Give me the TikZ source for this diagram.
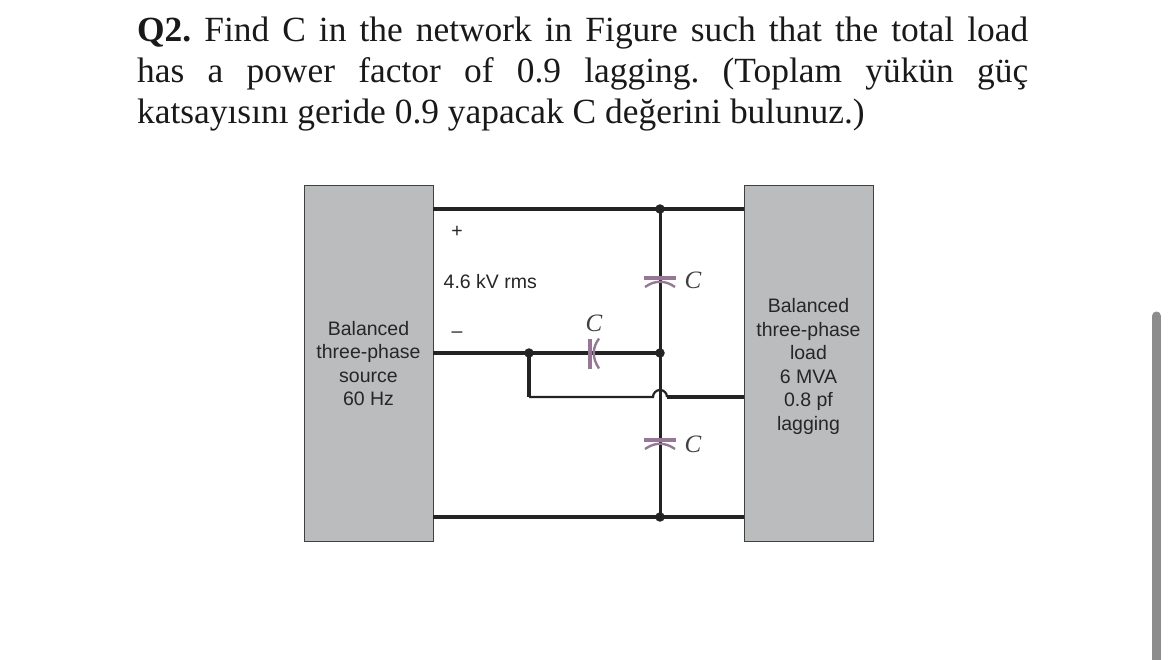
\documentclass[tikz,border=0pt]{standalone}
\usepackage{fontspec}
\setmainfont{Liberation Serif}
\newfontfamily\lab{Liberation Sans}
\definecolor{boxgray}{RGB}{187,188,190}
\definecolor{capc}{RGB}{150,120,150}
\definecolor{wire}{RGB}{35,35,35}
\definecolor{barc}{RGB}{140,140,140}
\tikzset{
  panel/.style={draw=black!75,line width=0.7pt,fill=boxgray,anchor=north west,inner sep=0pt},
  wireline/.style={draw=wire,line width=3.3pt},
  thinwire/.style={draw=wire,line width=2.2pt},
  vwire/.style={draw=wire,line width=3pt},
  dotnode/.style={circle,fill=wire,inner sep=0pt,minimum size=9.5pt},
  lbl/.style={font=\lab\fontsize{19.5}{23.5}\selectfont,align=center,text=black!85,inner sep=0pt},
  clab/.style={font=\fontsize{25}{28}\selectfont\itshape,text=black!75,inner sep=0pt},
  plate/.style={draw=capc,line width=3.4pt},
  arcplate/.style={draw=capc,line width=2.4pt},
}
\begin{document}
\begin{tikzpicture}[x=1pt,y=-1pt]
\useasboundingbox (0,0) rectangle (1170,660);
\node[anchor=north west,inner sep=0pt,text width=891pt,align=justify,font=\fontsize{35.4}{41}\selectfont\frenchspacing,text=black!90] (q) at (137,16.5)
 {\textbf{Q2.} Find C in the network in Figure such that the total load\linebreak has a power factor of 0.9 lagging. (Toplam yükün güç\linebreak katsayısını geride 0.9 yapacak C değerini bulunuz.)};
\node[panel,minimum width=128.5pt,minimum height=355.5pt] (src) at (304.2,185.2) {};
\node[panel,minimum width=128.5pt,minimum height=355.5pt] (load) at (744.2,185.2) {};
\node[lbl] (srct) at (368.5,363.5) {Balanced\\three-phase\\source\\60 Hz};
\node[lbl] (loadt) at (808.5,366.5) {Balanced\\three-phase\\load\\6 MVA\\0.8 pf\\lagging};
\node[lbl] (plus) at (457,232) {+};
\node[lbl] (minus) at (457,335) {\textendash};
\node[lbl,anchor=west] (volt) at (443.5,281.5) {4.6 kV rms};
\coordinate (srcT) at (433,209);
\coordinate (srcM) at (433,353);
\coordinate (srcB) at (433,517);
\coordinate (loadT) at (744,209);
\coordinate (loadM) at (744,397);
\coordinate (loadB) at (744,517);
\node[dotnode] (jT) at (660,209) {};
\node[dotnode] (jM) at (660,353) {};
\node[dotnode] (jB) at (660,517) {};
\node[dotnode] (jL) at (529,353) {};
\coordinate (cor) at (529,397);
\coordinate (h1) at (653,397);
\coordinate (h2) at (667,397);
\draw[wireline] (srcT) -- (jT.center) -- (loadT);
\draw[wireline] (srcB) -- (jB.center) -- (loadB);
\draw[wireline] (srcM) -- (jL.center) -- (jM.center);
\draw[wireline] (jL.center) -- (cor);
\draw[vwire] (jT.center) -- (jM.center) -- (jB.center);
\draw[thinwire] (cor) -- (h1) arc[start angle=180,end angle=0,radius=7pt];
\draw[wireline] (h2) -- (loadM);
% capacitors
\draw[plate] (644,278) -- (676,278);
\draw[arcplate] (645,287) .. controls (655,280) and (665,280) .. (675,287);
\node[clab] (c1) at (693,280) {C};
\draw[plate] (644,440) -- (676,440);
\draw[arcplate] (645,449) .. controls (655,442) and (665,442) .. (675,449);
\node[clab] (c3) at (693,444) {C};
\draw[plate] (590,339) -- (590,369);
\draw[arcplate] (599,338.5) .. controls (592,348) and (592,358) .. (599,368.5);
\node[clab] (c2) at (594,323) {C};
% scrollbar
\draw[barc,line width=9pt,line cap=round] (1156.5,316) -- (1156.5,670);
\end{tikzpicture}
\end{document}
